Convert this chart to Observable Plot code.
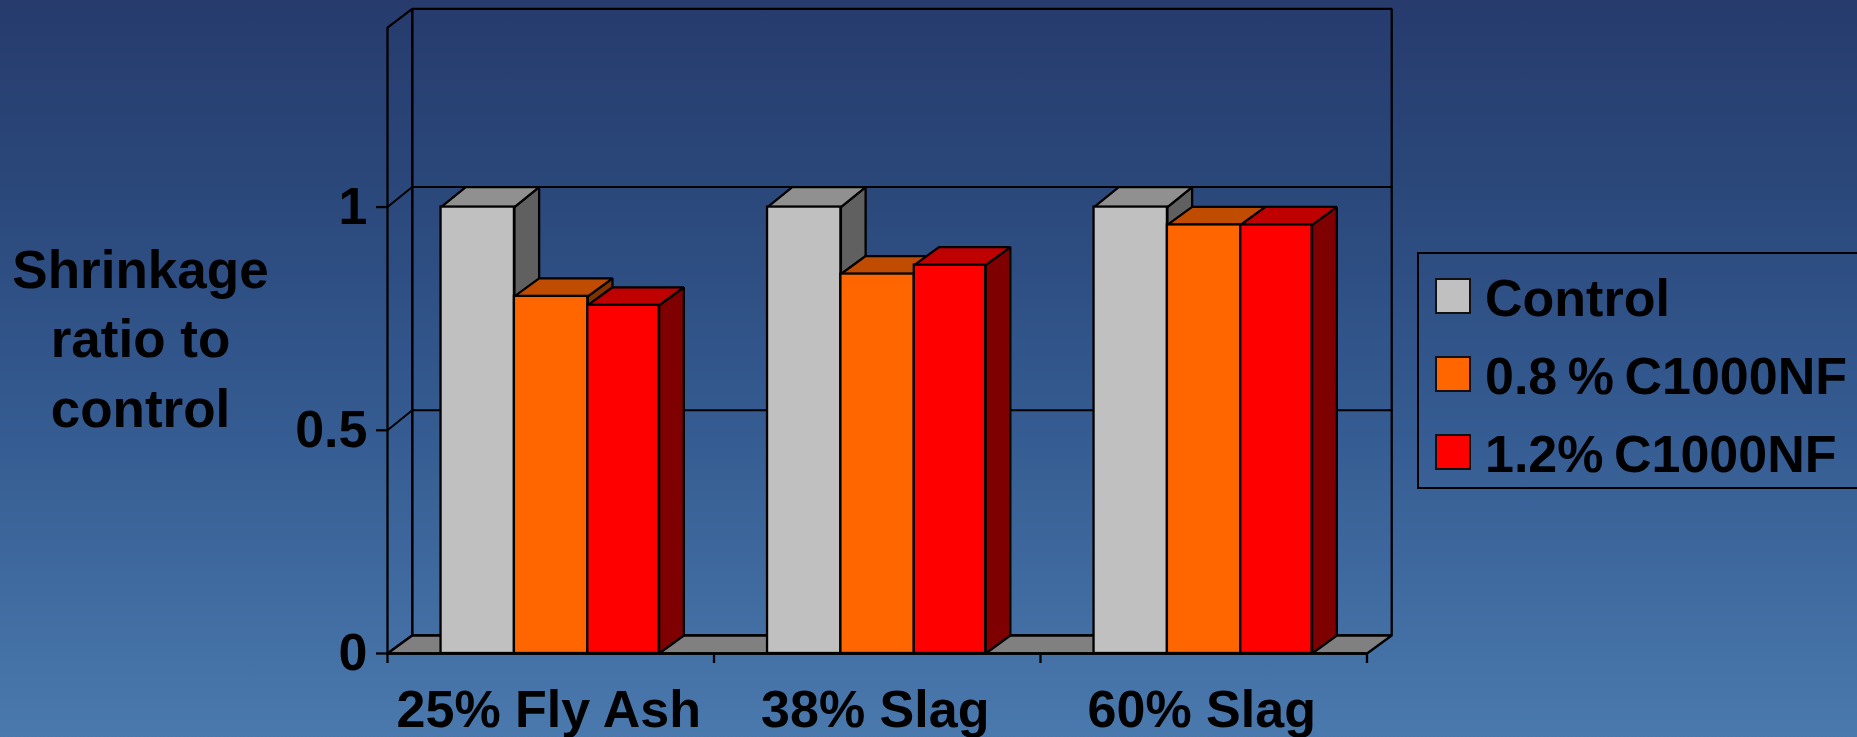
<!DOCTYPE html>
<html>
<head>
<meta charset="utf-8">
<script src="https://cdn.jsdelivr.net/npm/d3@7"></script>
<script src="https://cdn.jsdelivr.net/npm/@observablehq/plot@0.6"></script>
<style>
html,body{margin:0;padding:0;width:1857px;height:737px;overflow:hidden;
  background:linear-gradient(180deg,#273b6d 0px,#2a4679 170px,#33598f 400px,#4a79ad 737px);
  font-family:"Liberation Sans",Arial,sans-serif;font-weight:bold;color:#000;}
#chart{position:absolute;left:0;top:0;}
#ytitle{position:absolute;left:0;top:235px;width:281px;text-align:center;font-size:53px;line-height:69.4px;}
#legend{position:absolute;left:1417px;top:252px;width:480px;height:233px;border:2px solid #000;box-sizing:content-box;}
.li{position:absolute;left:16px;display:flex;align-items:center;font-size:52px;line-height:58px;white-space:pre;word-spacing:-4px;}
.sw{width:32px;height:32px;border:2px solid #111;margin-right:14px;box-sizing:content-box;position:relative;top:-2px;}
</style>
</head>
<body>
<div id="chart"></div>
<div id="ytitle"></div>
<div id="legend"></div>
<script>
const categories = ["25% Fly Ash", "38% Slag", "60% Slag"];
const control = [1, 1, 1];
const c08 = [0.80, 0.85, 0.96];
const c12 = [0.78, 0.87, 0.96];
const seriesNames = ["Control", "0.8 % C1000NF", "1.2% C1000NF"];
const seriesFront = ["#c0c0c0", "#ff6600", "#ff0000"];
const seriesTop = ["#909090", "#bf4c00", "#bf0000"];
const seriesSide = ["#606060", "#7f3300", "#7f0000"];
const yTicks = [0, 0.5, 1];
const yTickLabels = ["0", "0.5", "1"];
const yTitleLines = ["Shrinkage", "ratio to", "control"];
const floorColor = ["#808080"];

const yMax = 1.4, yTop = 1.402;
const depthX = 0.0757;                       // 3D offset, in scale units
const depthFloor = 0.0403, depthGrid = 0.0448, depthTop = 0.0418;
const barDepthY = [0.0448, 0.0403, 0.0403];
const barWidths = [0.2247, 0.2247, 0.2185];
const barStart = 0.164;
const nCat = categories.length;
const allValues = [control, c08, c12];
const lw = 2.3;

function closed(pts, id, fill) {
  return pts.concat([pts[0]]).map(([x, y]) => ({x, y, id, fill}));
}

const wallLines = [
  // back wall outline
  ...closed([[depthX, depthFloor], [nCat + depthX, depthFloor], [nCat + depthX, yTop + depthTop], [depthX, yTop + depthTop]], "back", "none"),
  // left wall outline
  ...closed([[0, 0], [depthX, depthFloor], [depthX, yTop + depthTop], [0, yTop]], "left", "none"),
  // floor
  ...closed([[0, 0], [nCat, 0], [nCat + depthX, depthFloor], [depthX, depthFloor]], "floor", floorColor[0])
];
const gridLines = yTicks.filter(t => t > 0).flatMap(t => [
  {x: 0, y: t, id: t}, {x: depthX, y: t + depthGrid, id: t}, {x: nCat + depthX, y: t + depthGrid, id: t}
]);

const seriesMarks = allValues.flatMap((vals, j) => {
  const start = d3.sum(barWidths.slice(0, j));
  const dy = barDepthY[j];
  const bars = vals.map((v, i) => ({
    x1: i + barStart + start,
    x2: i + barStart + start + barWidths[j],
    v
  }));
  const sides = bars.flatMap((b, i) => closed(
    [[b.x2, 0], [b.x2 + depthX, dy], [b.x2 + depthX, b.v + dy], [b.x2, b.v]], "s" + i, seriesSide[j]));
  const tops = bars.flatMap((b, i) => closed(
    [[b.x1, b.v], [b.x2, b.v], [b.x2 + depthX, b.v + dy], [b.x1 + depthX, b.v + dy]], "t" + i, seriesTop[j]));
  const polyOpts = {x: "x", y: "y", z: "id", fill: "fill", stroke: "#000", strokeWidth: lw, strokeLinejoin: "miter"};
  return [
    Plot.line(sides, polyOpts),
    Plot.line(tops, polyOpts),
    Plot.rect(bars, {x1: "x1", x2: "x2", y1: () => 0, y2: "v", fill: seriesFront[j], stroke: "#000", strokeWidth: lw})
  ];
});

const plot = Plot.plot({
  width: 1857, height: 737,
  marginLeft: 387, marginRight: 490.5, marginTop: 28, marginBottom: 84,
  x: {domain: [0, nCat], axis: null},
  y: {domain: [0, yMax], axis: null},
  color: {type: "identity"},
  style: {background: "transparent", fontFamily: "'Liberation Sans',Arial,sans-serif", fontWeight: "bold", overflow: "visible"},
  marks: [
    Plot.line(wallLines, {x: "x", y: "y", z: "id", fill: "fill", stroke: "#000", strokeWidth: lw, strokeLinejoin: "miter"}),
    Plot.line(gridLines, {x: "x", y: "y", z: "id", stroke: "#000", strokeWidth: 2}),
    Plot.axisY({ticks: yTicks, tickSize: 11, tickPadding: 9, tickFormat: (d) => yTickLabels[yTicks.indexOf(d)], fontSize: 52, stroke: "#000", strokeWidth: lw, color: "#000", label: null}),
    Plot.axisX({ticks: d3.range(nCat + 1), tickSize: 10, tickFormat: () => "", stroke: "#000", strokeWidth: lw, label: null}),
    Plot.axisX({ticks: categories.map((c, i) => i + 0.5), tickSize: 0, tickPadding: 37, dx: -2, tickFormat: (d) => categories[Math.floor(d)], fontSize: 52, color: "#000", label: null}),
    Plot.ruleY([0], {x1: 0, x2: nCat, stroke: "#000", strokeWidth: lw}),
    ...seriesMarks
  ]
});
document.getElementById("chart").append(plot);

document.getElementById("ytitle").innerHTML = yTitleLines.join("<br>");
const legend = document.getElementById("legend");
const legendTop = [15, 92.5, 170.5];
seriesNames.forEach((name, i) => {
  const row = document.createElement("div");
  row.className = "li";
  row.style.top = legendTop[i] + "px";
  const sw = document.createElement("div");
  sw.className = "sw";
  sw.style.background = seriesFront[i];
  const label = document.createElement("div");
  label.textContent = name;
  row.append(sw, label);
  legend.append(row);
});
</script>
</body>
</html>
